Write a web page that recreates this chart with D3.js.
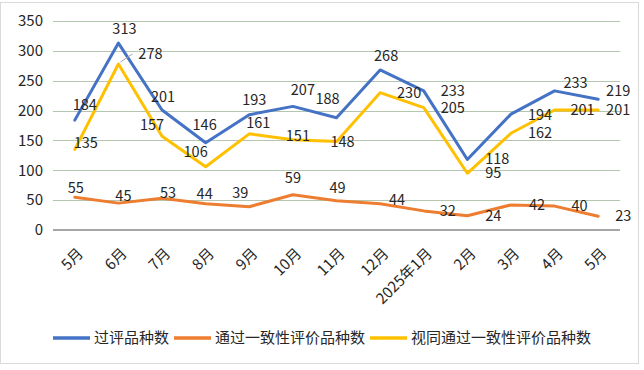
<!DOCTYPE html>
<html>
<head>
<meta charset="utf-8">
<title>过评品种数</title>
<style>
	body { margin: 0; background: #fff; }
	svg { font-family: "Noto Sans CJK SC", "Noto Sans", sans-serif; }
</style>
</head>
<body>
<div id="vis"></div>
<script src="https://d3js.org/d3.v7.min.js"></script>
<script>
	// data
	var months = ["5月", "6月", "7月", "8月", "9月", "10月", "11月", "12月", "2025年1月", "2月", "3月", "4月", "5月"];
	var seriesNames = ["过评品种数", "通过一致性评价品种数", "视同通过一致性评价品种数"];
	var passed = [184, 313, 201, 146, 193, 207, 188, 268, 233, 118, 194, 233, 219];
	var consistency = [55, 45, 53, 44, 39, 59, 49, 44, 32, 24, 42, 40, 23];
	var deemed = [135, 278, 157, 106, 161, 151, 148, 230, 205, 95, 162, 201, 201];
	var yTicks = [0, 50, 100, 150, 200, 250, 300, 350];

	// label placement (offset from the point, px)
	var passedOff = [[10,-15],[6,-14],[1,-13],[-1,-18],[5,-15],[10,-16],[-9,-19],[6,-14],[29,0],[30,-1],[29,1],[21,-8],[20,-8]];
	var consistencyOff = [[1,-9],[5,-7],[6,-5],[-1,-10],[-9,-14],[0,-17],[1,-13],[17,-4],[24,0],[26,0],[26,0],[25,0],[25,0]];
	var deemedOff = [[11,-6],[32,-10],[-10,-11],[-10,-15],[9,-11],[5,-4],[6,0],[29,0],[29,0],[26,0],[29,0],[28,0],[20,0]];

	var width = 644, height = 370;
	var colors = ["#4472C4", "#ED7D31", "#FFC000"];

	var series = [
		{ name: seriesNames[0], values: passed, off: passedOff, color: colors[0] },
		{ name: seriesNames[1], values: consistency, off: consistencyOff, color: colors[1] },
		{ name: seriesNames[2], values: deemed, off: deemedOff, color: colors[2] }
	];

	var svg = d3.select("#vis").append("svg")
		.attr("width", width)
		.attr("height", height);

	svg.append("rect")
		.attr("x", 0.5).attr("y", 2.5)
		.attr("width", 638).attr("height", 361)
		.attr("fill", "#fff")
		.attr("stroke", "#d9d9d9");

	var x = d3.scaleBand()
		.domain(d3.range(months.length))
		.range([53, 620]);

	var y = d3.scaleLinear()
		.domain([0, 350])
		.range([230, 21]);

	function cx(i) { return x(i) + x.bandwidth() / 2; }

	// grid
	svg.append("g").selectAll("line")
		.data(yTicks.filter(function(d) { return d > 0; }))
		.enter().append("line")
		.attr("x1", 53).attr("x2", 620)
		.attr("y1", function(d) { return Math.round(y(d)) + 0.5; })
		.attr("y2", function(d) { return Math.round(y(d)) + 0.5; })
		.attr("stroke", "#b4c6b0")
		.attr("stroke-width", 1);

	// y labels
	svg.append("g").selectAll("text")
		.data(yTicks)
		.enter().append("text")
		.attr("x", 43)
		.attr("y", function(d) { return y(d); })
		.attr("dy", "0.35em")
		.attr("text-anchor", "end")
		.attr("font-size", 15)
		.attr("fill", "#262626")
		.text(function(d) { return d; });

	// x axis line
	svg.append("line")
		.attr("x1", 53).attr("x2", 620)
		.attr("y1", y(0)).attr("y2", y(0))
		.attr("stroke", "#a6a6a6")
		.attr("stroke-width", 2);

	// x labels
	svg.append("g").selectAll("text")
		.data(months)
		.enter().append("text")
		.attr("transform", function(d, i) { return "translate(" + (cx(i) + 2) + ",247) rotate(-45)"; })
		.attr("text-anchor", "end")
		.attr("dy", "0.7em")
		.attr("font-size", 15)
		.attr("fill", "#262626")
		.text(function(d) { return d; });

	var line = d3.line()
		.x(function(d, i) { return cx(i); })
		.y(function(d) { return y(d); });

	// draw order: passed, consistency, deemed
	series.forEach(function(s) {
		svg.append("path")
			.datum(s.values)
			.attr("d", line)
			.attr("fill", "none")
			.attr("stroke", s.color)
			.attr("stroke-width", 3)
			.attr("stroke-linejoin", "round")
			.attr("stroke-linecap", "round");
	});

	// leader line for 278
	svg.append("line")
		.attr("x1", cx(1) + 2).attr("y1", y(deemed[1]) - 2)
		.attr("x2", cx(1) + 14).attr("y2", y(deemed[1]) - 10)
		.attr("stroke", "#a6a6a6")
		.attr("stroke-width", 1);

	series.forEach(function(s) {
		svg.append("g").selectAll("text")
			.data(s.values)
			.enter().append("text")
			.attr("x", function(d, i) { return cx(i) + s.off[i][0]; })
			.attr("y", function(d, i) { return y(d) + s.off[i][1]; })
			.attr("dy", "0.35em")
			.attr("text-anchor", "middle")
			.attr("font-size", 14.5)
			.attr("fill", "#262626")
			.text(function(d) { return d; });
	});

	// legend
	var legend = svg.append("g").attr("transform", "translate(0,338)");
	var lx = 0;
	var items = legend.selectAll("g")
		.data(series)
		.enter().append("g");
	items.append("line")
		.attr("x1", 0).attr("x2", 37)
		.attr("stroke", function(d) { return d.color; })
		.attr("stroke-width", 3.5);
	items.append("text")
		.attr("x", 41)
		.attr("dy", "0.35em")
		.attr("font-size", 15)
		.attr("fill", "#262626")
		.text(function(d) { return d.name; });
	items.each(function() {
		var g = d3.select(this);
		g.attr("transform", "translate(" + lx + ",0)");
		lx += 41 + g.select("text").node().getComputedTextLength() + 5;
	});
	legend.attr("transform", "translate(" + Math.round((width - (lx - 5)) / 2) + ",338)");
</script>
</body>
</html>
